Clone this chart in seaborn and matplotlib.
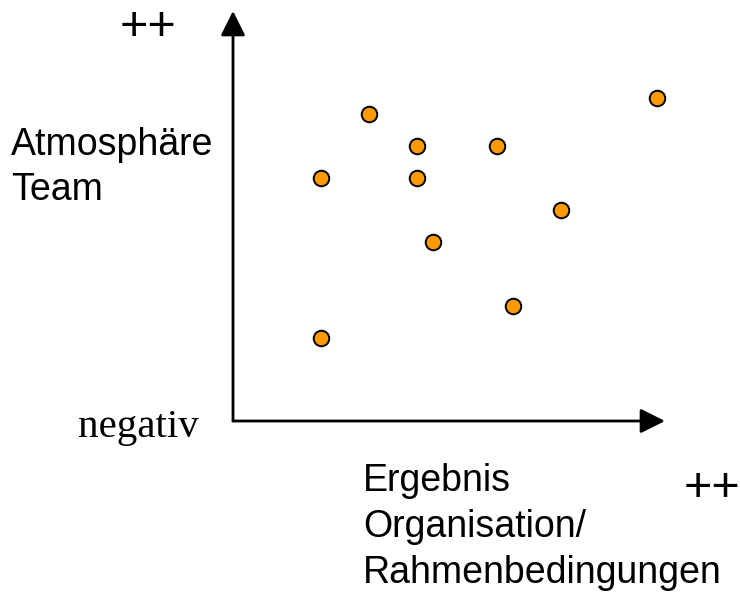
import pandas as pd
import seaborn as sns
import matplotlib.pyplot as plt

# Punkte im Portfolio (Ergebnis/Organisation vs. Atmosphäre/Team)
ergebnis = [8, 26, 11, 16, 5, 11, 20, 12, 17, 5]
atmosphaere = [19, 20, 17, 17, 15, 15, 13, 11, 7, 5]

y_label_lines = ['Atmosphäre', 'Team']
x_label_lines = ['Ergebnis', 'Organisation/', 'Rahmenbedingungen']
low_label = 'negativ'
high_label = '++'

df = pd.DataFrame({'Ergebnis': ergebnis, 'Atmosphaere': atmosphaere})

sns.set_style('white')
plt.rcParams['font.family'] = ['Liberation Sans', 'DejaVu Sans']
plt.rcParams['text.color'] = 'black'

W, H = 740, 594
fig = plt.figure(figsize=(W / 100, H / 100), dpi=100)

# Achsenbereich: Ursprung bei (233, 421), Pfeilspitzen bei x=665 bzw. y=11
x0, y0, x1, y1 = 233, 421, 665, 11
ax = fig.add_axes([x0 / W, 1 - y0 / H, (x1 - x0) / W, (y0 - y1) / H])

sns.scatterplot(data=df, x='Ergebnis', y='Atmosphaere', ax=ax,
                s=125, color='#FF9900', edgecolor='black', linewidth=1.4,
                zorder=3, clip_on=False)

ax.set_xlim(-0.5, -0.5 + (x1 - x0) / 16)
ax.set_ylim(-0.19, -0.19 + (y0 - y1) / 16)
ax.set_xlabel('')
ax.set_ylabel('')
ax.set_xticks([])
ax.set_yticks([])
for sp in ax.spines.values():
    sp.set_visible(False)

# Achsen als Pfeile
arrow = dict(arrowstyle='-|>,head_length=1,head_width=0.5', mutation_scale=15,
             lw=2, color='black', shrinkA=0, shrinkB=0)
ax.annotate('', xy=(0, 1), xytext=(0, 0), xycoords='axes fraction',
            arrowprops=arrow, annotation_clip=False)
ax.annotate('', xy=(1, 0), xytext=(0, 0), xycoords='axes fraction',
            arrowprops=arrow, annotation_clip=False)


def put(x, y, s, **kw):
    fig.text(x / W, 1 - y / H, s, va='baseline', ha='left', color='black', **kw)


put(120, 40, high_label, fontsize=35)
put(684, 501, high_label, fontsize=35)
for i, line in enumerate(y_label_lines):
    put(11, 155 + i * 45, line, fontsize=27)
for i, line in enumerate(x_label_lines):
    put(363, 491 + i * 46, line, fontsize=27)
put(78, 437, low_label, fontsize=29.5, family=['Liberation Serif', 'DejaVu Serif'])

fig.savefig('out.png', dpi=100)
